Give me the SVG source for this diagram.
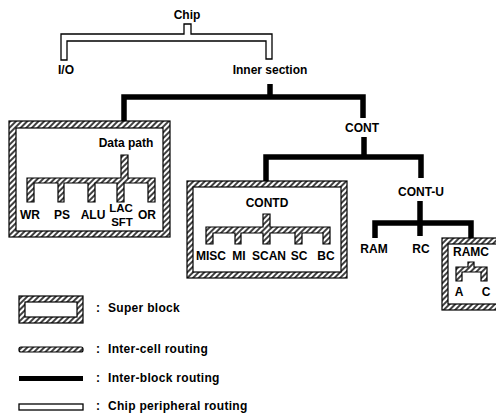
<svg xmlns="http://www.w3.org/2000/svg" width="496" height="415" viewBox="0 0 496 415">
<style>
text{font-family:"Liberation Sans",Arial,sans-serif;font-weight:bold;font-size:12px;fill:#000;text-anchor:middle}
.lg{text-anchor:start;letter-spacing:0.3px}
.sm{font-size:11.5px}
.hb{fill:url(#hatch);stroke:#000;stroke-width:1.2;stroke-linejoin:miter}
.in{fill:#fff;stroke:#000;stroke-width:1.2}
.blk{fill:none;stroke:#000;stroke-width:5.5;stroke-linejoin:miter;stroke-linecap:butt}
.chip{fill:#fff;stroke:#000;stroke-width:1.3}
</style>
<defs>
<pattern id="hatch" patternUnits="userSpaceOnUse" width="4" height="4" patternTransform="rotate(45)">
<rect width="4" height="4" fill="#fff"/>
<line x1="1" y1="0" x2="1" y2="4" stroke="#000" stroke-width="1.5"/>
</pattern>
</defs>
<rect width="496" height="415" fill="#fff"/>

<g id="connectors">
<path class="chip" d="M61,60 V34 H184 V24 H191 V34 H272 V59 H266 V41 H67 V60 Z"/>
<path class="blk" d="M270,84 V97"/>
<path class="blk" d="M124,121 V97 H363 V118"/>
<path class="blk" d="M364,137 V157"/>
<path class="blk" d="M266,181 V157 H421 V178"/>
<path class="blk" d="M420,201 V236"/>
<path class="blk" d="M375,238 V223 H471 V238"/>
</g>

<g id="chip"><text x="187" y="19">Chip</text></g>
<g id="io"><text x="66" y="74">I/O</text></g>
<g id="inner"><text x="270" y="74">Inner section</text></g>
<g id="cont"><text x="362" y="132">CONT</text></g>
<g id="contu"><text x="421" y="196">CONT-U</text></g>
<g id="ram"><text x="374" y="253">RAM</text></g>
<g id="rc"><text x="421" y="253">RC</text></g>

<g id="datapath">
<rect class="hb" x="9" y="121" width="161" height="116"/>
<rect class="in" x="16" y="128" width="147" height="103"/>
<text x="126" y="147">Data path</text>
<path class="hb" d="M27,178 H121 V155 H128 V178 H155 V202 H148 V183 H124 V202 H117 V183 H95 V202 H88 V183 H64 V202 H58 V183 H34 V202 H27 Z"/>
<text x="30" y="219">WR</text>
<text x="62" y="219">PS</text>
<text x="93" y="219">ALU</text>
<text class="sm" x="121" y="212">LAC</text>
<text class="sm" x="122" y="226">SFT</text>
<text x="147" y="219">OR</text>
</g>

<g id="contd">
<rect class="hb" x="187" y="181" width="160" height="97"/>
<rect class="in" x="193" y="187" width="148" height="85"/>
<text x="267" y="207">CONTD</text>
<path class="hb" d="M206,227 H263 V214 H270 V227 H330 V244 H323 V233 H302 V244 H295 V233 H270 V244 H263 V233 H241 V244 H235 V233 H213 V244 H206 Z"/>
<text x="211" y="260">MISC</text>
<text x="239" y="260">MI</text>
<text x="269" y="260">SCAN</text>
<text x="299" y="260">SC</text>
<text x="326" y="260">BC</text>
</g>

<g id="ramc">
<rect class="hb" x="442" y="238" width="70" height="72"/>
<rect class="in" x="448" y="244" width="60" height="60"/>
<text x="471" y="256">RAMC</text>
<path class="hb" d="M456,267 H468 V262 H474 V267 H487 V281 H481 V272 H462 V281 H456 Z"/>
<text x="459" y="296">A</text>
<text x="486" y="296">C</text>
</g>

<g id="legend">
<rect class="hb" x="19" y="296" width="64" height="27"/>
<rect class="in" x="25" y="302" width="52" height="15"/>
<text class="lg" x="96" y="312">:<tspan x="108">Super block</tspan></text>
<rect class="hb" x="19" y="347" width="64" height="5" rx="2"/>
<text class="lg" x="96" y="353">:<tspan x="108">Inter-cell routing</tspan></text>
<rect x="19" y="376" width="64" height="5" fill="#000"/>
<text class="lg" x="96" y="382">:<tspan x="108">Inter-block routing</tspan></text>
<rect class="chip" x="19" y="404" width="64" height="6"/>
<text class="lg" x="96" y="410">:<tspan x="108">Chip peripheral routing</tspan></text>
</g>
</svg>
